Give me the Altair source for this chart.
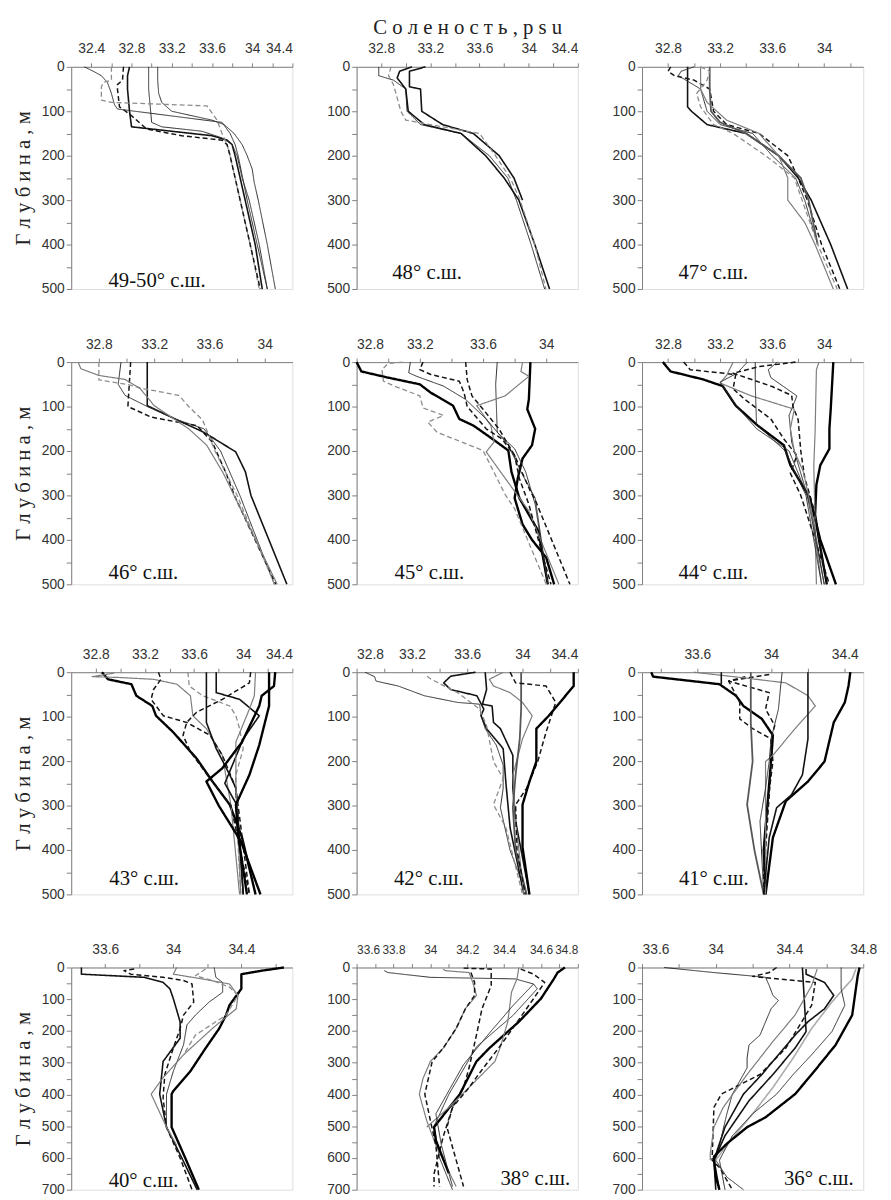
import altair as alt
import pandas as pd

# ---------------- line styles seen in the figure ----------------
STYLE_NAMES = ["thick", "black", "thin", "dash", "grey", "greydash", "darkgrey", "lightgrey"]
STYLE_COLORS = ["#000000", "#121212", "#2b2b2b", "#141414", "#7d7d7d", "#8c8c8c", "#565656", "#ababab"]
STYLE_WIDTHS = [2.4, 1.6, 1.0, 1.5, 1.2, 1.3, 1.8, 1.6]
STYLE_DASHES = [[1, 0], [1, 0], [1, 0], [5, 3], [1, 0], [5, 3], [1, 0], [1, 0]]

# ---------------- 49-50 N ----------------
P49_STYLE = ["black", "thin", "thin", "thin", "greydash", "dash"]
P49_D = [
    [0, 20, 50, 100, 135, 145, 155, 165, 175, 200, 250, 300, 400, 500],
    [0, 50, 100, 125, 135, 145, 160, 175, 200, 250, 300, 400, 500],
    [0, 30, 60, 80, 100, 110, 120, 130, 150, 175, 200, 230, 260, 300, 400, 500],
    [0, 10, 20, 35, 60, 85, 95, 125, 150, 175, 200, 300, 400, 500],
    [0, 30, 35, 45, 75, 80, 88, 120, 150, 175, 200, 300, 400, 500],
    [0, 30, 40, 50, 90, 110, 140, 155, 165, 175, 200, 300, 400, 500],
]
P49_S = [
    [32.78, 32.76, 32.76, 32.78, 32.8, 33.2, 33.6, 33.75, 33.8, 33.83, 33.88, 33.93, 34.03, 34.1],
    [32.97, 32.97, 32.99, 33.0, 33.1, 33.5, 33.7, 33.8, 33.85, 33.9, 33.97, 34.07, 34.15],
    [33.06, 33.06, 33.07, 33.1, 33.2, 33.4, 33.6, 33.72, 33.82, 33.9, 33.95, 34.0, 34.02, 34.06, 34.15, 34.23],
    [32.33, 32.42, 32.5, 32.56, 32.6, 32.63, 32.66, 33.7, 33.78, 33.83, 33.86, 33.95, 34.05, 34.15],
    [32.6, 32.6, 32.52, 32.5, 32.5, 32.6, 33.55, 33.65, 33.7, 33.75, 33.78, 33.88, 33.98, 34.07],
    [32.72, 32.71, 32.66, 32.66, 32.68, 32.8, 32.95, 33.3, 33.7, 33.75, 33.78, 33.88, 33.98, 34.08],
]

# ---------------- 48 N ----------------
P48_STYLE = ["thin", "black", "black", "greydash"]
P48_D = [
    [0, 20, 30, 50, 100, 130, 150, 200, 250, 300, 400, 500],
    [0, 10, 45, 50, 100, 130, 150, 200, 250, 300],
    [0, 10, 25, 50, 100, 130, 150, 200, 250, 300, 400, 500],
    [0, 20, 40, 100, 120, 130, 150, 200, 250, 300, 400, 500],
]
P48_S = [
    [32.78, 32.78, 32.9, 33.0, 33.01, 33.12, 33.45, 33.68, 33.83, 33.9, 34.02, 34.13],
    [33.16, 33.03, 33.03, 33.12, 33.13, 33.3, 33.55, 33.76, 33.88, 33.95],
    [33.05, 32.95, 32.93, 33.0, 33.02, 33.15, 33.45, 33.65, 33.8, 33.92, 34.05, 34.17],
    [32.88, 32.86, 32.9, 32.96, 33.0, 33.2, 33.6, 33.73, 33.85, 33.93, 34.05, 34.14],
]

# ---------------- 47 N ----------------
P47_STYLE = ["black", "dash", "thin", "darkgrey", "grey", "greydash"]
P47_D = [
    [0, 40, 90, 100, 130, 150, 200, 250, 300, 400, 500],
    [0, 10, 20, 30, 50, 100, 130, 150, 200, 250, 300, 400, 500],
    [0, 10, 20, 50, 100, 130, 150, 200, 250, 300, 400],
    [0, 50, 100, 125, 150, 200, 250, 300, 400],
    [0, 50, 80, 120, 150, 200, 250, 300, 350, 400, 500],
    [0, 10, 30, 60, 90, 130, 150, 200, 250, 300, 400, 500],
]
P47_S = [
    [32.95, 32.95, 32.95, 32.98, 33.1, 33.4, 33.65, 33.8, 33.9, 34.05, 34.18],
    [32.82, 32.8, 32.85, 33.0, 33.12, 33.15, 33.25, 33.5, 33.72, 33.8, 33.87, 33.98, 34.12],
    [33.0, 32.9, 32.88, 33.05, 33.1, 33.2, 33.45, 33.6, 33.78, 33.85, 33.95],
    [33.12, 33.12, 33.13, 33.2, 33.4, 33.65, 33.82, 33.88, 33.95],
    [33.05, 33.05, 33.1, 33.25, 33.5, 33.65, 33.72, 33.72, 33.85, 33.93, 34.07],
    [33.05, 33.12, 33.1, 33.02, 33.05, 33.15, 33.3, 33.55, 33.77, 33.83, 33.95, 34.1],
]

# ---------------- 46 N ----------------
P46_STYLE = ["black", "thin", "dash", "greydash", "grey"]
P46_D = [
    [0, 98, 135, 158, 202, 247, 300, 500],
    [0, 50, 75, 100, 128, 150, 200, 300, 500],
    [0, 50, 100, 124, 143, 180, 250, 300, 500],
    [0, 40, 50, 60, 75, 100, 130, 200, 300, 500],
    [0, 15, 30, 39, 60, 98, 150, 187, 250, 500],
]
P46_S = [
    [33.15, 33.15, 33.4, 33.56, 33.79, 33.86, 33.9, 34.16],
    [32.96, 32.94, 32.99, 33.15, 33.35, 33.56, 33.68, 33.82, 34.07],
    [33.03, 33.02, 33.01, 33.18, 33.51, 33.62, 33.72, 33.78, 34.08],
    [32.8, 32.8, 33.0, 33.13, 33.38, 33.45, 33.55, 33.64, 33.8, 34.07],
    [32.65, 32.67, 32.8, 32.99, 33.1, 33.2, 33.45, 33.58, 33.7, 34.09],
]

# ---------------- 45 N ----------------
P45_STYLE = ["thick", "thick", "thin", "grey", "thin", "dash", "dash", "greydash"]
P45_D = [
    [0, 21, 35, 50, 69, 98, 128, 143, 173, 199, 247, 306, 380, 500],
    [0, 84, 106, 150, 187, 217, 261, 306, 365, 400, 440, 500],
    [0, 50, 158, 195, 247, 320, 500],
    [0, 21, 32, 76, 98, 143, 180, 202, 291, 335, 500],
    [0, 24, 32, 54, 84, 128, 187, 247, 306, 500],
    [0, 17, 28, 43, 69, 100, 150, 173, 210, 262, 320, 400, 500],
    [0, 40, 76, 106, 150, 210, 291, 310, 500],
    [0, 3, 17, 43, 54, 76, 103, 120, 135, 158, 199, 298, 330, 500],
]
P45_S = [
    [32.8, 32.83, 33.0, 33.2, 33.27, 33.41, 33.45, 33.54, 33.66, 33.76, 33.78, 33.83, 33.95, 34.01],
    [33.9, 33.89, 33.88, 33.93, 33.91, 33.85, 33.82, 33.8, 33.85, 33.91, 34.0, 34.05],
    [33.69, 33.68, 33.69, 33.8, 33.87, 33.93, 34.01],
    [33.85, 33.84, 33.89, 33.74, 33.56, 33.65, 33.67, 33.62, 33.8, 33.89, 34.08],
    [33.14, 33.13, 33.18, 33.35, 33.49, 33.62, 33.76, 33.84, 33.93, 34.01],
    [33.22, 33.2, 33.27, 33.45, 33.48, 33.5, 33.62, 33.72, 33.8, 33.83, 33.89, 33.95, 34.03],
    [33.49, 33.5, 33.53, 33.6, 33.7, 33.8, 33.9, 33.93, 34.15],
    [33.09, 33.0, 32.96, 32.97, 33.04, 33.2, 33.22, 33.35, 33.25, 33.31, 33.6, 33.74, 33.8, 34.0],
]

# ---------------- 44 N ----------------
P44_STYLE = ["thick", "thick", "grey", "thin", "dash", "dash", "grey", "thin", "thin"]
P44_D = [
    [0, 21, 39, 54, 98, 143, 187, 232, 306, 400, 500],
    [0, 106, 150, 195, 232, 276, 343, 400, 500],
    [0, 17, 158, 232, 500],
    [0, 17, 35, 76, 120, 180, 250, 330, 500],
    [0, 10, 25, 40, 55, 75, 100, 130, 200, 260, 330, 500],
    [0, 17, 28, 60, 84, 128, 173, 210, 250, 300, 500],
    [0, 30, 47, 76, 106, 150, 200, 247, 330, 500],
    [0, 50, 140, 200, 300, 500],
    [0, 25, 45, 100, 150, 200, 300, 500],
]
P44_S = [
    [32.76, 32.82, 33.07, 33.22, 33.32, 33.49, 33.69, 33.74, 33.89, 33.97, 34.09],
    [34.07, 34.05, 34.04, 34.04, 33.97, 33.94, 33.93, 33.96, 34.02],
    [33.96, 33.94, 33.93, 33.92, 33.94],
    [33.64, 33.57, 33.59, 33.79, 33.73, 33.75, 33.82, 33.9, 34.0],
    [33.78, 33.5, 33.3, 33.45, 33.6, 33.75, 33.76, 33.8, 33.82, 33.85, 33.92, 34.02],
    [32.92, 32.97, 33.32, 33.3, 33.39, 33.59, 33.69, 33.79, 33.74, 33.82, 34.04],
    [33.3, 33.25, 33.2, 33.44, 33.77, 33.74, 33.77, 33.84, 33.9, 33.98],
    [33.47, 33.47, 33.48, 33.7, 33.86, 33.98],
    [33.41, 33.33, 33.2, 33.33, 33.48, 33.73, 33.87, 34.0],
]

# ---------------- 43 N ----------------
P43_STYLE = ["thick", "grey", "dash", "greydash", "black", "black", "dash", "grey", "thick", "thick"]
P43_D = [
    [0, 16, 27, 53, 76, 98, 135, 194, 246, 298, 372, 500],
    [2, 10, 12, 16, 27, 53, 98, 127, 187, 300, 500],
    [0, 16, 39, 61, 98, 113, 142, 187, 261, 500],
    [0, 31, 53, 76, 98, 127, 172, 231, 298, 500],
    [0, 113, 172, 231, 261, 500],
    [0, 46, 61, 98, 150, 250, 300, 500],
    [0, 24, 61, 90, 113, 142, 179, 240, 300, 500],
    [0, 53, 83, 157, 250, 500],
    [0, 31, 53, 76, 157, 216, 246, 300, 380, 500],
    [0, 38, 76, 164, 231, 298, 370, 500],
]
P43_S = [
    [32.85, 32.9, 33.09, 33.13, 33.26, 33.29, 33.43, 33.62, 33.75, 33.89, 33.99, 34.1],
    [32.95, 32.77, 33.0, 33.27, 33.46, 33.57, 33.59, 33.7, 33.83, 33.9, 33.97],
    [33.31, 33.33, 33.27, 33.25, 33.35, 33.54, 33.73, 33.83, 33.94, 34.05],
    [33.55, 33.56, 33.67, 33.89, 33.94, 33.97, 34.0, 33.94, 33.94, 33.98],
    [33.7, 33.7, 33.78, 33.89, 33.94, 34.0],
    [33.78, 33.78, 33.97, 34.13, 34.0, 33.85, 33.95, 34.0],
    [34.06, 34.05, 33.83, 33.62, 33.54, 33.51, 33.57, 33.73, 33.9, 34.05],
    [34.1, 34.09, 34.05, 33.94, 33.94, 33.98],
    [34.26, 34.25, 34.15, 34.13, 33.99, 33.83, 33.7, 33.8, 33.98, 34.14],
    [34.21, 34.21, 34.21, 34.13, 34.05, 33.94, 33.96, 34.03],
]

# ---------------- 42 N ----------------
P42_STYLE = ["thin", "black", "black", "greydash", "grey", "darkgrey", "dash", "thick"]
P42_D = [
    [0, 10, 20, 31, 53, 68, 72, 98, 127, 164, 209, 261, 305, 401, 500],
    [0, 9, 24, 39, 53, 83, 98, 127, 172, 250, 350, 500],
    [0, 39, 72, 76, 113, 127, 187, 260, 335, 500],
    [9, 16, 46, 83, 120, 201, 239, 298, 350, 500],
    [0, 16, 31, 46, 68, 98, 150, 231, 335, 500],
    [0, 83, 150, 231, 305, 400, 500],
    [0, 24, 31, 68, 135, 201, 261, 298, 400, 500],
    [0, 31, 98, 127, 201, 246, 298, 394, 500],
]
P42_S = [
    [32.86, 32.93, 32.94, 33.1, 33.29, 33.53, 33.69, 33.7, 33.73, 33.81, 33.86, 33.86, 33.84, 33.91, 34.03],
    [33.66, 33.48, 33.43, 33.48, 33.67, 33.72, 33.7, 33.74, 33.86, 33.88, 33.91, 34.01],
    [33.73, 33.74, 33.71, 33.78, 33.79, 33.84, 33.93, 33.93, 33.95, 34.05],
    [33.31, 33.34, 33.53, 33.69, 33.74, 33.79, 33.86, 33.79, 33.88, 34.0],
    [33.86, 33.76, 33.79, 33.91, 34.0, 34.07, 34.0, 33.93, 33.95, 34.01],
    [33.99, 33.99, 33.98, 33.95, 33.93, 33.95, 34.03],
    [33.91, 33.95, 34.17, 34.24, 34.17, 34.11, 34.03, 33.95, 33.96, 34.02],
    [34.37, 34.37, 34.19, 34.1, 34.1, 34.05, 34.0, 34.0, 34.05],
]

# ---------------- 41 N ----------------
P41_STYLE = ["thick", "thick", "dash", "dash", "darkgrey", "grey", "thin", "black", "black"]
P41_D = [
    [0, 10, 27, 53, 76, 105, 142, 200, 300, 400, 500],
    [0, 31, 68, 113, 201, 246, 290, 372, 500],
    [5, 20, 46, 83, 120, 150, 201, 300, 400, 500],
    [10, 20, 68, 105, 127, 150, 201, 276, 400, 500],
    [0, 113, 201, 298, 401, 500],
    [0, 13, 24, 53, 76, 127, 187, 201, 300, 500],
    [0, 40, 83, 150, 201, 261, 335, 500],
    [0, 150, 231, 276, 305, 372, 500],
    [0, 27],
]
P41_S = [
    [33.35, 33.36, 33.72, 33.81, 33.85, 33.95, 34.01, 34.0, 33.98, 33.96, 33.97],
    [34.43, 34.42, 34.4, 34.34, 34.29, 34.2, 34.08, 34.01, 33.97],
    [33.99, 33.77, 33.99, 33.97, 34.02, 34.0, 34.01, 33.98, 33.96, 33.96],
    [33.86, 33.77, 33.83, 33.83, 33.9, 34.0, 34.0, 33.99, 33.97, 33.97],
    [33.89, 33.89, 33.9, 33.87, 33.91, 33.96],
    [33.58, 33.86, 34.08, 34.2, 34.24, 34.13, 34.01, 33.97, 33.97, 33.97],
    [34.06, 34.05, 34.04, 34.0, 33.99, 33.97, 33.94, 33.96],
    [34.2, 34.2, 34.17, 34.11, 34.03, 33.99, 33.96],
    [33.73, 33.73],
]

# ---------------- 40 N ----------------
P40_STYLE = ["thick", "black", "dash", "thin", "grey", "greydash"]
P40_D = [
    [0, 10, 21, 67, 119, 150, 192, 254, 327, 389, 399, 503, 600, 700],
    [0, 21, 31, 47, 67, 98, 171, 223, 296, 399, 503, 600, 700],
    [5, 10, 21, 31, 41, 52, 109, 150, 192, 254, 337, 410, 503, 600, 700],
    [0, 31, 47, 78, 109, 150, 181, 244, 327, 399, 503],
    [0, 21, 36, 52, 88, 130, 192, 275, 347, 399, 503, 560],
    [5, 26, 41, 62, 88, 150, 213, 275],
]
P40_S = [
    [34.65, 34.52, 34.4, 34.4, 34.33, 34.31, 34.27, 34.19, 34.1, 34.0, 33.99, 33.99, 34.07, 34.15],
    [33.46, 33.46, 33.83, 33.94, 33.98, 34.0, 34.04, 34.04, 33.94, 33.92, 33.96, 34.05, 34.14],
    [33.77, 33.71, 33.75, 33.94, 34.06, 34.11, 34.12, 34.06, 34.04, 34.0, 33.95, 33.94, 33.96, 34.04, 34.11],
    [34.24, 34.25, 34.29, 34.29, 34.21, 34.13, 34.08, 34.06, 34.0, 33.96, 33.96],
    [34.02, 34.0, 34.17, 34.33, 34.38, 34.37, 34.23, 34.06, 33.94, 33.87, 33.96, 34.02],
    [34.19, 34.13, 34.23, 34.33, 34.38, 34.31, 34.13, 34.06],
]

# ---------------- 38 N ----------------
P38_STYLE = ["thin", "grey", "dash", "dash", "thick", "grey", "dash", "thin"]
P38_D = [
    [10, 16, 31, 36, 52, 67, 150, 250, 300, 400, 500, 600, 700],
    [5, 10, 16, 47, 88, 130, 192, 254, 296, 350, 399, 482, 560, 690],
    [16, 47, 88, 130, 192, 254, 296, 399, 482, 560, 690],
    [2, 5, 57, 130, 213, 316, 378, 441, 532, 650, 690],
    [0, 16, 36, 98, 171, 254, 296, 399, 503, 545, 648],
    [0, 36, 78, 171, 250, 296, 378, 441, 503],
    [5, 21, 47, 98, 181, 254, 330, 378, 441, 503, 690],
    [52, 119, 200, 306, 378, 461, 560, 690],
]
P38_S = [
    [33.75, 33.77, 34.0, 34.46, 34.56, 34.58, 34.45, 34.25, 34.2, 34.1, 34.02, 34.05, 34.12],
    [34.07, 34.08, 34.21, 34.23, 34.25, 34.19, 34.14, 34.07, 34.0, 33.96, 33.94, 33.98, 34.03, 34.14],
    [34.22, 34.24, 34.24, 34.19, 34.14, 34.07, 34.01, 33.97, 34.0, 34.03, 34.05],
    [34.18, 34.33, 34.33, 34.28, 34.25, 34.21, 34.18, 34.12, 34.07, 34.02, 34.02],
    [34.73, 34.69, 34.67, 34.6, 34.48, 34.32, 34.25, 34.16, 34.02, 34.03, 34.1],
    [34.48, 34.47, 34.44, 34.42, 34.38, 34.35, 34.21, 34.1, 33.98],
    [34.49, 34.56, 34.62, 34.56, 34.46, 34.37, 34.27, 34.21, 34.12, 34.09, 34.18],
    [34.56, 34.45, 34.33, 34.18, 34.11, 34.03, 34.06, 34.12],
]

# ---------------- 36 N ----------------
P36_STYLE = ["thin", "dash", "black", "black", "grey", "lightgrey", "thin", "thick"]
P36_D = [
    [0, 16, 28, 31, 57, 88, 104, 130, 171, 213, 244, 285, 316, 399, 461, 560, 607, 660, 700],
    [0, 16, 28, 47, 119, 254, 337, 399, 441, 607, 630, 700],
    [5, 21, 47, 88, 130, 171, 213, 275, 337, 399, 503, 607, 700],
    [0, 202, 254, 337, 420, 530, 607, 700],
    [5, 57, 150, 233, 337, 441, 503, 586, 607],
    [5, 36, 109, 192, 285, 378, 461, 545, 607],
    [0, 67, 119, 202, 275, 337, 399, 461, 530, 607, 700],
    [0, 26, 67, 150, 244, 337, 399, 472, 503, 555, 596, 660, 700],
]
P36_S = [
    [33.72, 33.99, 34.22, 34.27, 34.29, 34.31, 34.34, 34.3, 34.27, 34.24, 34.18, 34.17, 34.17, 34.09, 34.06, 34.02, 34.0, 34.06, 34.15],
    [34.33, 34.29, 34.2, 34.54, 34.52, 34.38, 34.24, 34.03, 33.99, 33.98, 34.02, 34.09],
    [34.49, 34.49, 34.59, 34.64, 34.59, 34.5, 34.43, 34.34, 34.25, 34.15, 34.05, 33.99, 34.0],
    [34.47, 34.49, 34.43, 34.31, 34.18, 34.05, 33.99, 34.02],
    [34.55, 34.52, 34.43, 34.31, 34.17, 34.04, 33.99, 33.97, 33.97],
    [34.76, 34.74, 34.63, 34.52, 34.42, 34.31, 34.2, 34.08, 34.0],
    [34.68, 34.68, 34.7, 34.63, 34.52, 34.42, 34.33, 34.2, 34.09, 34.02, 34.05],
    [34.78, 34.77, 34.76, 34.74, 34.65, 34.52, 34.43, 34.27, 34.17, 34.06, 33.99, 34.0, 34.02],
]

# ---------------- panel labels, axis domains and tick values ----------------
LABELS = ["49-50° с.ш.", "48° с.ш.", "47° с.ш.", "46° с.ш.", "45° с.ш.", "44° с.ш.",
          "43° с.ш.", "42° с.ш.", "41° с.ш.", "40° с.ш.", "38° с.ш.", "36° с.ш."]
LABEL_S = [32.57, 32.89, 32.88, 32.87, 33.04, 32.88, 32.91, 33.07, 33.5, 33.62, 34.38, 34.37]
LABEL_D = [496, 478, 478, 489, 489, 489, 478, 478, 478, 691, 684, 684]
DOMAINS = [[32.2, 34.4], [32.6, 34.4], [32.6, 34.3], [32.6, 34.2], [32.8, 34.2], [32.6, 34.3],
           [32.6, 34.4], [32.8, 34.4], [33.3, 34.5], [33.4, 34.7], [33.6, 34.8], [33.6, 34.8]]
MAJOR = [
    [32.4, 32.8, 33.2, 33.6, 34, 34.4],
    [32.8, 33.2, 33.6, 34, 34.4],
    [32.8, 33.2, 33.6, 34],
    [32.8, 33.2, 33.6, 34],
    [32.8, 33.2, 33.6, 34],
    [32.8, 33.2, 33.6, 34],
    [32.8, 33.2, 33.6, 34, 34.4],
    [32.8, 33.2, 33.6, 34, 34.4],
    [33.6, 34, 34.4],
    [33.6, 34, 34.4],
    [33.6, 33.8, 34, 34.2, 34.4, 34.6, 34.8],
    [33.6, 34, 34.4, 34.8],
]
MINOR = [
    [32.6, 33.0, 33.4, 33.8, 34.2],
    [33.0, 33.4, 33.8, 34.2],
    [33.0, 33.4, 33.8, 34.2],
    [33.0, 33.4, 33.8],
    [33.0, 33.4, 33.8],
    [33.0, 33.4, 33.8, 34.2],
    [33.0, 33.4, 33.8, 34.2],
    [33.0, 33.4, 33.8, 34.2],
    [33.4, 33.8, 34.2],
    [33.8, 34.2, 34.6],
    [33.7, 33.9, 34.1, 34.3, 34.5, 34.7],
    [33.8, 34.2, 34.6],
]
DEPTH_MAX = [500] * 9 + [700] * 3

PANEL_S = [P49_S, P48_S, P47_S, P46_S, P45_S, P44_S, P43_S, P42_S, P41_S, P40_S, P38_S, P36_S]
PANEL_D = [P49_D, P48_D, P47_D, P46_D, P45_D, P44_D, P43_D, P42_D, P41_D, P40_D, P38_D, P36_D]
PANEL_STYLE = [P49_STYLE, P48_STYLE, P47_STYLE, P46_STYLE, P45_STYLE, P44_STYLE,
               P43_STYLE, P42_STYLE, P41_STYLE, P40_STYLE, P38_STYLE, P36_STYLE]

X_TITLE = "С о л е н о с т ь ,  p s u"
Y_TITLE = "Г л у б и н а ,  м"

SANS = "Liberation Sans Narrow, Arial Narrow, Liberation Sans, Arial, sans-serif"
SERIF = "Liberation Serif, Times New Roman, serif"
W, H = 224, 225


def panel(k):
    rows = []
    for pid, (ss, dd, st) in enumerate(zip(PANEL_S[k], PANEL_D[k], PANEL_STYLE[k])):
        assert len(ss) == len(dd), (k, pid)
        for i, (s, d) in enumerate(zip(ss, dd)):
            rows.append({"pid": pid, "i": i, "s": s, "d": d, "style": st})
    df = pd.DataFrame(rows)
    dmax = DEPTH_MAX[k]
    majors = MAJOR[k]
    ticks = sorted(set(majors + MINOR[k]))
    label_expr = "indexof(%s, datum.value) >= 0 ? '' + datum.value : ''" % str(majors)
    xaxis_kw = dict(
        orient="top", values=ticks, labelExpr=label_expr, labelOverlap=False,
        tickSize=4, labelPadding=7, grid=False,
        domainColor="#808080", tickColor="#808080", labelColor="#333333",
        labelFont=SANS, labelFontSize=12 if k == 10 else 14,
        titleFont=SERIF, titleFontSize=21, titleFontWeight="normal",
        titleColor="#222222", titlePadding=5,
    )
    if k == 1:
        xaxis_kw["title"] = X_TITLE
    else:
        xaxis_kw["title"] = None
    if k == 11:
        xaxis_kw["labelAlign"] = {"condition": {"test": "datum.value == 33.6", "value": "left"},
                                  "value": "center"}
    yaxis_kw = dict(
        values=list(range(0, dmax + 1, 50)),
        labelExpr="datum.value % 100 == 0 ? '' + datum.value : ''",
        labelOverlap=False, tickSize=5, labelPadding=2, grid=False,
        domainColor="#808080", tickColor="#808080", labelColor="#333333",
        labelFont=SANS, labelFontSize=14,
        titleFont=SERIF, titleFontSize=21, titleFontWeight="normal",
        titleColor="#222222", titlePadding=8,
    )
    yaxis_kw["title"] = Y_TITLE if k % 3 == 0 else None

    x_enc = alt.X("s:Q", scale=alt.Scale(domain=DOMAINS[k], nice=False, zero=False),
                  axis=alt.Axis(**xaxis_kw))
    y_enc = alt.Y("d:Q", scale=alt.Scale(domain=[0, dmax], nice=False, zero=False, reverse=True),
                  axis=alt.Axis(**yaxis_kw))

    lines = alt.Chart(df).mark_line(strokeJoin="round").encode(
        x=x_enc,
        y=y_enc,
        detail="pid:N",
        order="i:Q",
        color=alt.Color("style:N", scale=alt.Scale(domain=STYLE_NAMES, range=STYLE_COLORS), legend=None),
        strokeWidth=alt.StrokeWidth("style:N", scale=alt.Scale(type="ordinal", domain=STYLE_NAMES,
                                                                range=STYLE_WIDTHS), legend=None),
        strokeDash=alt.StrokeDash("style:N", scale=alt.Scale(domain=STYLE_NAMES, range=STYLE_DASHES),
                                  legend=None),
    )
    lab = pd.DataFrame({"s": [LABEL_S[k]], "d": [LABEL_D[k]], "t": [LABELS[k]]})
    text = alt.Chart(lab).mark_text(align="left", baseline="alphabetic", font=SERIF,
                                    fontSize=21, color="#111111").encode(x=x_enc, y=y_enc, text="t:N")
    return alt.layer(lines, text).properties(width=W, height=H)


top = alt.concat(*[panel(k) for k in range(6)], columns=3,
                 spacing={"row": 74, "column": 65}, bounds="flush")
bottom = alt.concat(*[panel(k) for k in range(6, 12)], columns=3,
                    spacing={"row": 74, "column": 65}, bounds="flush")

chart = alt.vconcat(top, bottom, spacing=55).properties(
    padding={"left": 4, "top": 0, "right": 5, "bottom": 5}
).configure_view(stroke=None).configure(background="white")

chart.save("out.html", embed_options={"renderer": "svg", "actions": False})
